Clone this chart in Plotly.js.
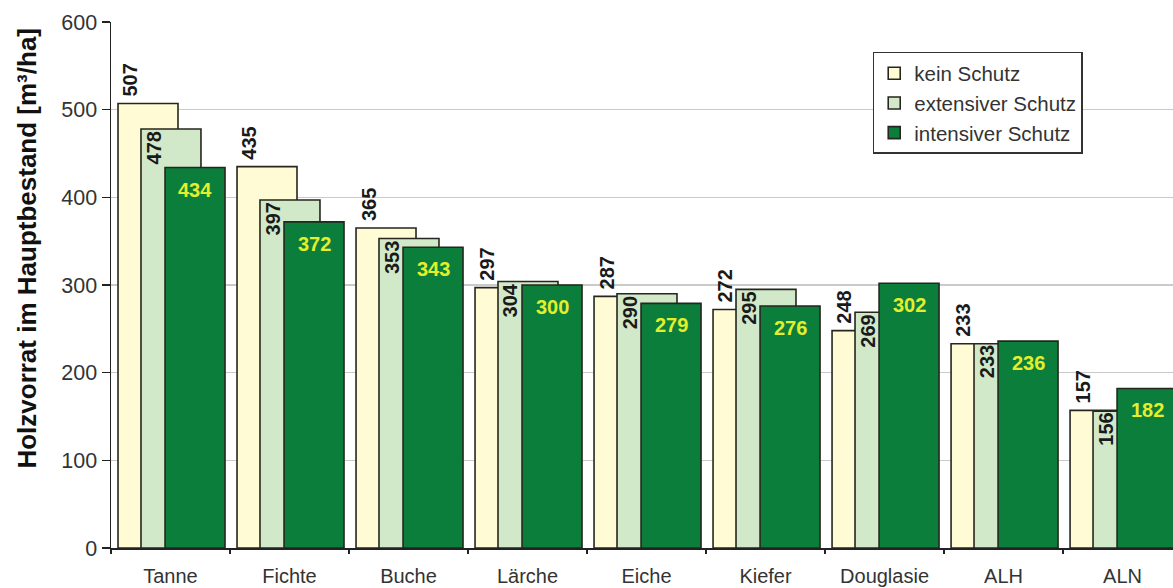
<!DOCTYPE html>
<html>
<head>
<meta charset="utf-8">
<script src="https://cdn.plot.ly/plotly-3.0.1.min.js"></script>
<style>
  html, body { margin: 0; padding: 0; background: #ffffff; }
  #chart { width: 1173px; height: 588px; }
</style>
</head>
<body>
<div id="chart"></div>
<script>
// Baumarten (Kategorien)
const species = ['Tanne', 'Fichte', 'Buche', 'Lärche', 'Eiche', 'Kiefer', 'Douglasie', 'ALH', 'ALN'];

// Holzvorrat im Hauptbestand [m³/ha] je Schutzvariante
const keinSchutz       = [507, 435, 365, 297, 287, 272, 248, 233, 157];
const extensiverSchutz = [478, 397, 353, 304, 290, 295, 269, 233, 156];
const intensiverSchutz = [434, 372, 343, 300, 279, 276, 302, 236, 182];

const seriesNames = ['kein Schutz', 'extensiver Schutz', 'intensiver Schutz'];

const FONT = 'Liberation Sans, Arial, Helvetica, sans-serif';
const OUTLINE = '#26261e';
const FILLS = ['#fffbd4', '#d1e8c9', '#0b7e3c'];

// Overlapping bars: each series shifted to the right within its category
const BAR_WIDTH = 0.504;
const OFFSETS = [-0.441, -0.248, -0.046];

const seriesValues = [keinSchutz, extensiverSchutz, intensiverSchutz];

const traces = seriesValues.map((vals, k) => ({
  type: 'bar',
  name: seriesNames[k],
  x: species,
  y: vals,
  width: BAR_WIDTH,
  offset: OFFSETS[k],
  marker: { color: FILLS[k], line: { color: OUTLINE, width: 1.6 } },
  hoverinfo: 'x+y+name'
}));

// Value labels
const annotations = [];
species.forEach((sp, i) => {
  // kein Schutz: rotated, above the bar
  annotations.push({
    x: i - 0.336, y: keinSchutz[i], xref: 'x', yref: 'y',
    text: String(keinSchutz[i]), showarrow: false, textangle: -90,
    xanchor: 'center', yanchor: 'bottom', yshift: 5,
    font: { family: FONT, size: 20, color: '#1a1a1a', weight: 'bold' }
  });
  // extensiver Schutz: rotated, inside the visible strip at the top
  annotations.push({
    x: i - 0.139, y: extensiverSchutz[i], xref: 'x', yref: 'y',
    text: String(extensiverSchutz[i]), showarrow: false, textangle: -90,
    xanchor: 'center', yanchor: 'top', yshift: 0,
    font: { family: FONT, size: 20, color: '#1a1a1a', weight: 'bold' }
  });
  // intensiver Schutz: horizontal, yellow, inside the bar top
  annotations.push({
    x: i + 0.206, y: intensiverSchutz[i], xref: 'x', yref: 'y',
    text: String(intensiverSchutz[i]), showarrow: false,
    xanchor: 'center', yanchor: 'middle', yshift: -22,
    font: { family: FONT, size: 20, color: '#e4ee2c', weight: 'bold' }
  });
});

// y-axis title
annotations.push({
  xref: 'paper', yref: 'paper', x: -0.079, y: 0.5694,
  xanchor: 'center', yanchor: 'middle', showarrow: false, textangle: -90,
  text: 'Holzvorrat im Hauptbestand [m³/ha]',
  font: { family: FONT, size: 26, color: '#111111', weight: 'bold' }
});

const layout = {
  width: 1173,
  height: 588,
  margin: { l: 111, r: 0, t: 22, b: 40, pad: 0 },
  paper_bgcolor: '#ffffff',
  plot_bgcolor: '#ffffff',
  barmode: 'overlay',
  showlegend: true,
  font: { family: FONT, color: '#333333' },
  xaxis: {
    type: 'category',
    range: [-0.5, 8.424],
    showline: true, linecolor: '#222222', linewidth: 1.5,
    ticks: 'outside', tickson: 'boundaries', ticklen: 4, tickwidth: 1.5, tickcolor: '#222222',
    ticklabelstandoff: 9,
    tickfont: { family: FONT, size: 20, color: '#333333' },
    showgrid: false, zeroline: false, fixedrange: true
  },
  yaxis: {
    range: [0, 600], dtick: 100, tick0: 0,
    showline: true, linecolor: '#222222', linewidth: 1.5,
    ticks: 'outside', ticklen: 8, tickwidth: 1.5, tickcolor: '#222222',
    tickfont: { family: FONT, size: 21.5, color: '#333333' },
    showgrid: true, gridcolor: '#cacaca', gridwidth: 1.5,
    zeroline: false, fixedrange: true
  },
  legend: {
    x: 0.915, xanchor: 'right', y: 0.943, yanchor: 'top',
    bgcolor: '#ffffff', bordercolor: '#333333', borderwidth: 1.5,
    font: { family: FONT, size: 20.5, color: '#333333' },
    traceorder: 'normal'
  },
  annotations: annotations
};

Plotly.newPlot('chart', traces, layout, { displayModeBar: false, staticPlot: true });
</script>
</body>
</html>
